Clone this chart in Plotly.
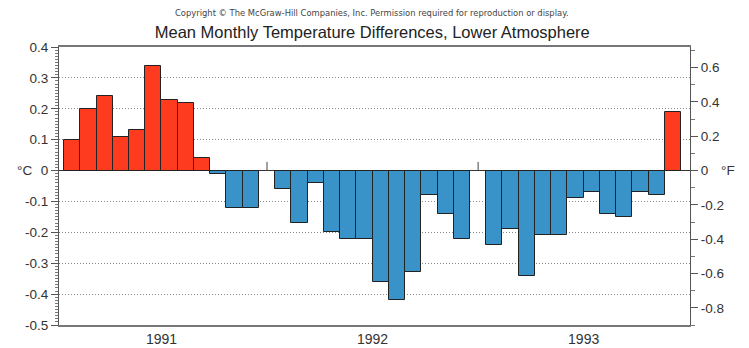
import plotly.graph_objects as go

years = ["1991", "1992", "1993"]
anom_1991 = [0.10, 0.20, 0.24, 0.11, 0.13, 0.34, 0.23, 0.22, 0.04, -0.01, -0.12, -0.12]
anom_1992 = [-0.06, -0.17, -0.04, -0.20, -0.22, -0.22, -0.36, -0.42, -0.33, -0.08, -0.14, -0.22]
anom_1993 = [-0.24, -0.19, -0.34, -0.21, -0.21, -0.09, -0.07, -0.14, -0.15, -0.07, -0.08, 0.19]
series = [anom_1991, anom_1992, anom_1993]

c_ticks = [0.4, 0.3, 0.2, 0.1, 0.0, -0.1, -0.2, -0.3, -0.4, -0.5]
f_ticks = [0.6, 0.4, 0.2, 0.0, -0.2, -0.4, -0.6, -0.8]

RED = "#FF3B1F"
BLUE = "#3993C9"
FONT = "Liberation Sans, Arial, sans-serif"

xs, ys, cols = [], [], []
for k, vals in enumerate(series):
    for m, v in enumerate(vals):
        xs.append(k * 13 + m)
        ys.append(v)
        cols.append(RED if v > 0 else BLUE)

fig = go.Figure()
fig.add_trace(go.Bar(
    x=xs, y=ys, width=1.0,
    marker=dict(color=cols, line=dict(color="#222222", width=1)),
    hoverinfo="x+y", showlegend=False,
))
# invisible trace for the right (°F) axis
fig.add_trace(go.Scatter(x=[xs[0]], y=[0], yaxis="y2", mode="markers",
                         marker=dict(opacity=0), showlegend=False, hoverinfo="skip"))

year_centers = [k * 13 + 5.5 for k in range(len(years))]
year_bounds = [k * 13 + 12 for k in range(len(years) - 1)]

for b in year_bounds:
    fig.add_shape(type="line", x0=b, x1=b, y0=0, y1=0.028, xref="x", yref="y",
                  line=dict(color="#444444", width=1))

cmin, cmax = -0.5, 0.4
fig.update_layout(
    width=749, height=348,
    margin=dict(l=59, r=59, t=47, b=23, autoexpand=False),
    paper_bgcolor="white", plot_bgcolor="white",
    bargap=0,
    font=dict(family=FONT, color="#333333", size=13),
    title=dict(text="Mean Monthly Temperature Differences, Lower Atmosphere",
               x=0.497, xref="container", xanchor="center",
               y=1 - 32 / 348, yref="container", yanchor="middle",
               font=dict(family=FONT, size=16.5, color="#222222")),
    xaxis=dict(range=[-0.81, 38.05], showgrid=False, zeroline=False, automargin=False,
               tickmode="array", tickvals=year_centers, ticktext=years,
               ticks="", showline=True, linecolor="#777777", linewidth=1.6,
               mirror=True, tickfont=dict(size=14, color="#333333")),
    yaxis=dict(range=[cmin, cmax], tickmode="array", tickvals=c_ticks, automargin=False,
               ticktext=[("%g" % t) for t in c_ticks],
               ticks="outside", ticklen=7, tickcolor="#555555",
               showline=True, linecolor="#555555", linewidth=1,
               showgrid=True, gridcolor="#8a8a8a", griddash="1px,2px", gridwidth=1,
               zeroline=True, zerolinecolor="#333333", zerolinewidth=1.2,
               minor=dict(dtick=0.01, ticks="outside", ticklen=3, tickcolor="#777777", showgrid=False),
               tickfont=dict(size=13.5, color="#333333")),
    yaxis2=dict(range=[cmin * 1.8, cmax * 1.8], overlaying="y", side="right", automargin=False,
                tickmode="array", tickvals=f_ticks,
                ticktext=[("%g" % t) for t in f_ticks],
                ticks="outside", ticklen=7, tickcolor="#555555",
                showline=True, linecolor="#555555", linewidth=1,
                showgrid=False, zeroline=False,
                minor=dict(dtick=0.1, ticks="outside", ticklen=4, tickcolor="#777777", showgrid=False),
                tickfont=dict(size=13.5, color="#333333")),
)

fig.add_annotation(text="Copyright © The McGraw-Hill Companies, Inc. Permission required for reproduction or display.",
                   xref="paper", yref="paper", x=(372 - 59) / 631, y=(325 - 13) / 278,
                   xanchor="center", yanchor="middle",
                   showarrow=False, font=dict(family="DejaVu Sans, sans-serif", size=8.4, color="#444444"))
fig.add_annotation(text="°C", xref="paper", yref="y", x=(15 - 59) / 631, y=0,
                   showarrow=False, font=dict(family=FONT, size=13.5, color="#333333"))
fig.add_annotation(text="°F", xref="paper", yref="y", x=(737 - 59) / 631, y=0,
                   showarrow=False, font=dict(family=FONT, size=13.5, color="#333333"))

fig.write_html("out.html", config={"displayModeBar": False},
               post_script="document.body.style.margin='0';document.body.style.overflow='hidden';")
